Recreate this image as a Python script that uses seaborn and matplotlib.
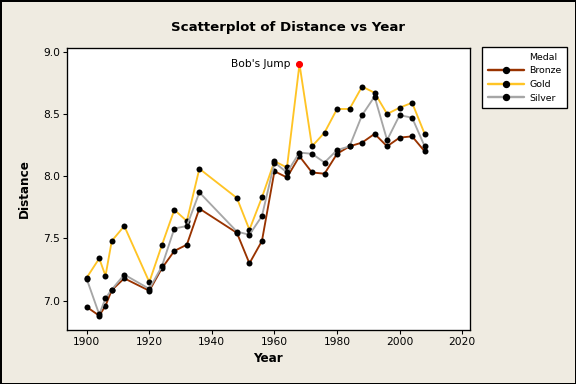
import pandas as pd
import matplotlib.pyplot as plt
import seaborn as sns
from matplotlib.lines import Line2D

years = [1900, 1904, 1906, 1908, 1912, 1920, 1924, 1928, 1932, 1936, 1948, 1952, 1956,
         1960, 1964, 1968, 1972, 1976, 1980, 1984, 1988, 1992, 1996, 2000, 2004, 2008]
gold = [7.185, 7.34, 7.20, 7.48, 7.60, 7.15, 7.445, 7.73, 7.64, 8.06, 7.825, 7.57, 7.83,
        8.12, 8.07, 8.90, 8.24, 8.35, 8.54, 8.54, 8.72, 8.67, 8.50, 8.55, 8.59, 8.34]
silver = [7.175, 6.89, 7.02, 7.09, 7.21, 7.095, 7.275, 7.58, 7.60, 7.87, 7.555, 7.53, 7.68,
          8.11, 8.03, 8.19, 8.18, 8.11, 8.21, 8.24, 8.49, 8.64, 8.29, 8.49, 8.47, 8.24]
bronze = [6.95, 6.88, 6.96, 7.085, 7.18, 7.08, 7.26, 7.40, 7.45, 7.74, 7.545, 7.30, 7.48,
          8.04, 7.99, 8.16, 8.03, 8.02, 8.18, 8.24, 8.27, 8.34, 8.24, 8.31, 8.32, 8.20]
medals = ['Bronze', 'Gold', 'Silver']
colors = {'Bronze': '#993300', 'Gold': '#FFC425', 'Silver': '#A6A6A6'}

df = pd.concat([
    pd.DataFrame({'Year': years, 'Distance': bronze, 'Medal': 'Bronze'}),
    pd.DataFrame({'Year': years, 'Distance': gold, 'Medal': 'Gold'}),
    pd.DataFrame({'Year': years, 'Distance': silver, 'Medal': 'Silver'}),
])
bob = df[(df.Medal == 'Gold') & (df.Year == 1968)]

sns.set_style('ticks')
plt.rcParams['font.family'] = ['DejaVu Sans']
plt.rcParams['text.color'] = 'black'
plt.rcParams['axes.labelcolor'] = 'black'
plt.rcParams['xtick.color'] = 'black'
plt.rcParams['ytick.color'] = 'black'
bg = '#EFEBE1'

fig = plt.figure(figsize=(6, 4), dpi=96, facecolor=bg)
fig.patch.set_edgecolor('black')
fig.patch.set_linewidth(2)
ax = fig.add_axes([66.7/576, 1-330/384, 403/576, 282.3/384])
ax.set_facecolor('white')

sns.lineplot(data=df, x='Year', y='Distance', hue='Medal', hue_order=medals,
             palette=colors, marker='o', markersize=4.5, markerfacecolor='black',
             markeredgecolor='black', markeredgewidth=0, linewidth=1.4,
             legend=False, ax=ax)
sns.scatterplot(data=bob, x='Year', y='Distance', color='red', s=28,
                edgecolor='red', linewidth=0, zorder=5, ax=ax)
ax.annotate("Bob's Jump", (1968, 8.90), xytext=(-7, 0), textcoords='offset points',
            ha='right', va='center', fontsize=8)

ax.set_xlim(1893.6, 2022.4)
ax.set_ylim(6.765, 9.032)
ax.set_xticks([1900, 1920, 1940, 1960, 1980, 2000, 2020])
ax.set_yticks([7.0, 7.5, 8.0, 8.5, 9.0])
ax.yaxis.set_major_formatter(plt.FormatStrFormatter('%.1f'))
ax.tick_params(labelsize=8, length=3, width=0.8, color='black', pad=2)
for s in ax.spines.values():
    s.set_color('black')
    s.set_linewidth(1)

ax.set_xlabel('Year', fontsize=9, fontweight='bold', labelpad=4)
ax.set_ylabel('Distance', fontsize=9, fontweight='bold', labelpad=9)
fig.text(0.5, 1 - 27/384, 'Scatterplot of Distance vs Year',
         ha='center', va='center', fontsize=10, fontweight='bold')

handles = [Line2D([], [], color='none')] + [
    Line2D([], [], color=colors[m], marker='o', markersize=4.5, markerfacecolor='black',
           markeredgecolor='black', linewidth=1.8) for m in medals]
leg = ax.legend(handles, ['Medal'] + medals, loc='upper left',
                bbox_to_anchor=(482/576, 1-47/384), bbox_transform=fig.transFigure,
                borderaxespad=0, fontsize=7, frameon=True, fancybox=False,
                handlelength=3.9, handletextpad=0.6, labelspacing=0.5,
                borderpad=0.6, edgecolor='black', framealpha=1)
leg.get_frame().set_linewidth(1)

fig.savefig('out.png', dpi=96, facecolor=bg, edgecolor='black')
